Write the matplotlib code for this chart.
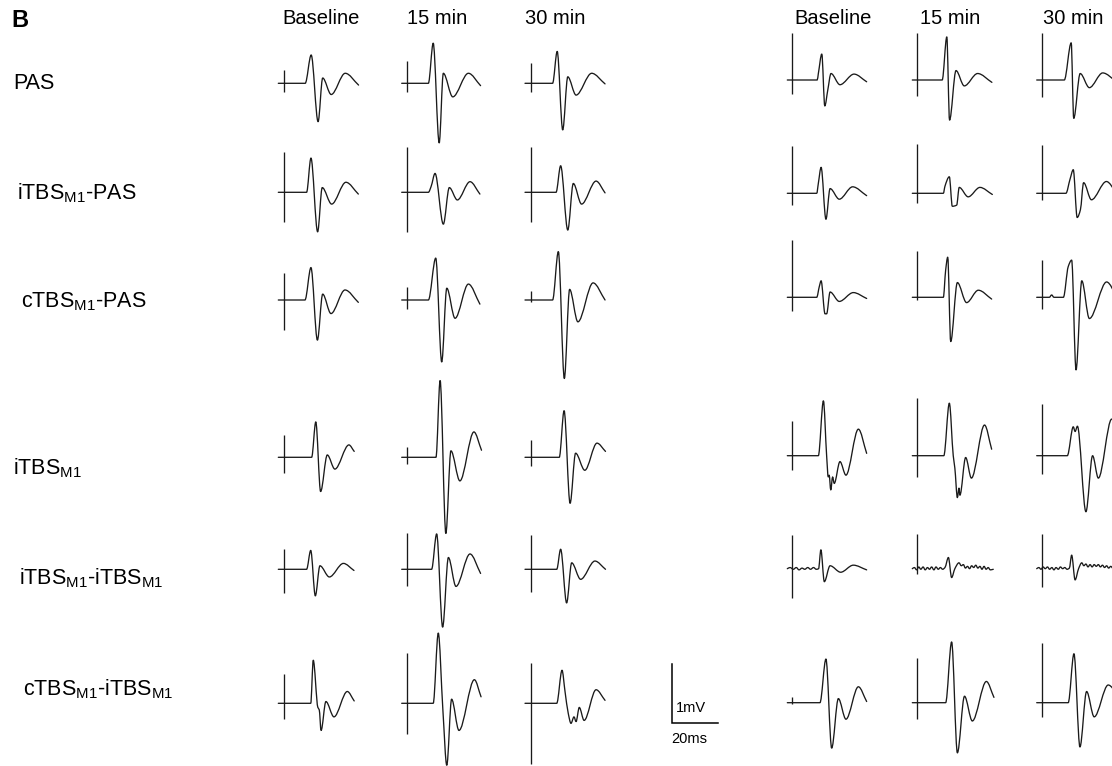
import numpy as np
import matplotlib
matplotlib.use("Agg")
import matplotlib.pyplot as plt
from matplotlib.path import Path
from matplotlib.patches import PathPatch
from matplotlib.transforms import Affine2D

plt.rcParams['font.family'] = ['Liberation Sans', 'DejaVu Sans']
plt.rcParams['mathtext.default'] = 'regular'

conditions = ["PAS", "iTBS$_{M1}$-PAS", "cTBS$_{M1}$-PAS", "iTBS$_{M1}$",
              "iTBS$_{M1}$-iTBS$_{M1}$", "cTBS$_{M1}$-iTBS$_{M1}$"]
timepoints = ["Baseline", "15 min", "30 min"]

# stimulus artefact extent in mV (rows = conditions, cols = timepoints)
left_stim_up = [[0.22, 0.38, 0.34], [0.69, 0.77, 0.77], [0.45, 0.22, 0.15],
                [0.38, 0.18, 0.29], [0.34, 0.61, 0.58], [0.50, 0.86, 0.68]]
left_stim_down = [[-0.14, -0.15, -0.14], [-0.50, -0.67, -0.50], [-0.50, -0.16, -0.03],
                  [-0.26, -0.12, -0.15], [-0.40, -0.28, -0.38], [-0.27, -0.52, -1.03]]
right_stim_up = [[0.79, 0.79, 0.79], [0.80, 0.83, 0.82], [0.97, 0.79, 0.64],
                 [0.59, 0.97, 0.88], [0.57, 0.59, 0.59], [0.10, 0.75, 1.01]]
right_stim_down = [[-0.23, -0.27, -0.28], [-0.20, -0.17, -0.11], [-0.24, -0.05, -0.19],
                   [-0.25, -0.36, -0.31], [-0.49, -0.09, -0.31], [-0.02, -0.28, -0.24]]

# MEP sweeps as (ms, mV) points, one list per timepoint
left_pas = [
    [(0, 0), (11.7, 0), (14.3, 0.48), (17.3, -0.65), (19.3, 0.09), (23.0, -0.19), (29.1, 0.17), (34.9, -0.03)],
    [(0, 0), (11.6, 0), (13.7, 0.68), (16.3, -1.01), (18.1, 0.17), (22.2, -0.23), (29.0, 0.17), (34.3, -0.04)],
    [(0, 0), (12.0, 0), (14.0, 0.54), (16.4, -0.79), (18.6, 0.11), (22.2, -0.20), (29.0, 0.17), (34.8, -0.01)],
]
left_itbs_pas = [
    [(0, 0), (12.3, 0), (14.2, 0.58), (17.1, -0.67), (19.1, 0.08), (23.2, -0.20), (29.4, 0.17), (34.8, -0.03)],
    [(0, 0), (11.6, 0), (12.8, 0.10), (14.5, 0.32), (18.1, -0.54), (20.7, 0.08), (24.2, -0.13), (29.7, 0.18), (34.0, -0.03)],
    [(0, 0), (13.5, 0), (15.5, 0.45), (18.6, -0.64), (21.0, 0.15), (24.6, -0.20), (30.9, 0.19), (34.8, -0.01)],
]
left_ctbs_pas = [
    [(0, 0), (11.6, 0), (14.2, 0.55), (17.0, -0.68), (19.3, 0.10), (22.9, -0.23), (29.0, 0.17), (34.8, -0.04)],
    [(0, 0), (11.6, 0), (14.8, 0.71), (17.4, -1.05), (19.6, 0.20), (23.2, -0.31), (29.0, 0.27), (34.0, -0.07)],
    [(0, 0), (12.0, 0), (14.5, 0.82), (17.1, -1.33), (19.4, 0.18), (23.0, -0.37), (29.6, 0.29), (34.8, 0.0)],
]
left_itbs = [
    [(0, 0), (14.5, 0), (16.3, 0.60), (18.4, -0.58), (21.3, 0.04), (24.6, -0.20), (30.7, 0.21), (33.0, 0.10)],
    [(0, 0), (14.9, 0), (16.7, 1.30), (19.2, -1.29), (21.4, 0.11), (25.3, -0.40), (31.4, 0.43), (34.7, 0.12)],
    [(0, 0), (14.9, 0), (17.0, 0.79), (19.6, -0.78), (22.0, 0.07), (26.0, -0.22), (31.3, 0.24), (35.0, 0.10)],
]
left_itbs_itbs = [
    [(0, 0), (12.3, 0), (14.1, 0.32), (16.1, -0.45), (18.1, 0.06), (22.2, -0.13), (28.3, 0.10), (32.9, -0.02)],
    [(0, 0), (13.0, 0), (15.2, 0.60), (17.8, -0.98), (20.3, 0.20), (23.6, -0.29), (29.7, 0.26), (34.3, -0.07)],
    [(0, 0), (13.8, 0), (15.5, 0.34), (18.1, -0.57), (20.3, 0.11), (24.2, -0.17), (30.4, 0.14), (35.0, 0.0)],
]
left_ctbs_itbs = [
    [(0, 0), (14.1, 0), (15.2, 0.73), (17.2, -0.07), (17.8, -0.11), (18.6, -0.46), (20.7, 0.03), (24.2, -0.23),
     (30.0, 0.20), (33.0, 0.04)],
    [(0, 0), (13.7, 0), (15.9, 1.19), (17.9, -0.11), (19.6, -1.05), (21.7, 0.07), (24.9, -0.46), (31.6, 0.40),
     (34.5, 0.11)],
    [(0, 0), (13.8, 0), (16.1, 0.56), (17.4, 0.20), (18.8, -0.17), (20.0, -0.34), (21.3, -0.23), (22.2, -0.31),
     (23.6, -0.07), (25.7, -0.29), (30.9, 0.23), (34.8, 0.05)],
]

right_pas = [
    [(0, 0), (13.0, 0), (13.5, 0.11), (15.0, 0.44), (16.3, -0.44), (17.6, -0.17), (19.0, 0.11), (22.9, -0.08),
     (29.0, 0.10), (34.5, -0.03)],
    [(0, 0), (13.0, 0), (15.0, 0.73), (16.2, -0.68), (19.0, 0.16), (22.6, -0.10), (28.4, 0.11), (34.6, -0.04)],
    [(0, 0), (12.0, 0), (15.0, 0.63), (16.1, -0.65), (18.9, 0.11), (22.9, -0.13), (28.7, 0.12), (34.5, -0.02)],
]
right_itbs_pas = [
    [(0, 0), (12.8, 0), (13.5, 0.17), (14.7, 0.44), (16.8, -0.44), (18.6, 0.08), (22.6, -0.10), (28.4, 0.11),
     (34.5, -0.04)],
    [(0, 0), (13.5, 0), (14.2, 0.12), (16.1, 0.28), (17.4, -0.22), (19.3, -0.20), (20.4, 0.10), (24.3, -0.06),
     (29.4, 0.10), (34.8, -0.02)],
    [(0, 0), (12.7, 0), (14.5, 0.24), (15.9, 0.40), (17.6, -0.41), (19.0, -0.28), (20.4, 0.18), (23.8, -0.11),
     (30.3, 0.20), (34.8, 0.0)],
]
right_ctbs_pas = [
    [(0, 0), (12.8, 0), (13.9, 0.18), (14.7, 0.28), (16.4, -0.28), (17.1, -0.28), (18.6, 0.09), (22.6, -0.07),
     (28.7, 0.08), (34.5, -0.02)],
    [(0, 0), (13.5, 0), (14.5, 0.46), (15.4, 0.68), (16.7, -0.75), (19.6, 0.25), (23.6, -0.09), (28.7, 0.12),
     (34.5, -0.03)],
    [(0, 0), (5.5, 0), (6.5, 0.04), (7.5, 0), (11.6, 0), (13.7, 0.52), (15.2, 0.63), (17.1, -1.23), (19.6, 0.28),
     (22.9, -0.36), (30.4, 0.26), (35.0, 0.0)],
]
right_itbs = [
    [(0, 0), (13.5, 0), (15.7, 0.93), (17.1, 0.0), (17.8, -0.36), (18.2, -0.33), (18.9, -0.58), (19.7, -0.36),
     (20.4, -0.47), (22.9, -0.10), (25.5, -0.33), (30.9, 0.45), (34.5, 0.04)],
    [(0, 0), (13.7, 0), (16.1, 0.89), (17.8, 0.0), (18.5, -0.21), (19.6, -0.71), (20.3, -0.55), (20.7, -0.67),
     (23.2, -0.03), (25.7, -0.38), (31.4, 0.52), (34.5, 0.11)],
    [(0, 0), (13.3, 0), (15.9, 0.49), (16.7, 0.41), (17.7, 0.50), (21.4, -0.95), (24.3, 0.0), (26.8, -0.38),
     (32.6, 0.62), (35.0, 0.50)],
]
right_itbs_itbs = [
    [(0, 0), (1.2, 0.02), (2.6, -0.01), (3.9, 0.02), (5.1, -0.02), (6.4, 0.01), (7.6, -0.01), (8.9, 0.02),
     (10.1, -0.01), (11.4, 0.02), (12.6, -0.01), (13.6, 0.0), (14.6, 0.32), (16.1, -0.22), (18.6, 0.05),
     (23.2, -0.06), (28.7, 0.06), (34.5, -0.02)],
    [(0, 0), (0.9, 0.02), (1.9, -0.02), (2.8, 0.03), (3.7, -0.01), (4.7, 0.03), (5.6, -0.02), (6.6, 0.02),
     (7.5, -0.01), (8.4, 0.03), (9.4, -0.02), (10.3, 0.03), (11.3, -0.01), (12.2, 0.02), (13.2, -0.01),
     (14.2, 0.02), (15.7, 0.19), (17.1, -0.15), (18.5, 0.0), (20.3, 0.10), (21.3, 0.05), (22.2, 0.07),
     (23.1, 0.01), (24.0, 0.04), (24.9, 0.0), (25.8, 0.05), (26.7, 0.02), (27.6, 0.06), (28.5, 0.01),
     (29.4, 0.04), (30.3, -0.01), (31.2, 0.04), (32.1, -0.01), (33.0, 0.02), (33.9, -0.02), (35.2, -0.01)],
    [(0, 0), (0.9, 0.02), (1.9, -0.01), (2.8, 0.03), (3.7, 0.0), (4.7, 0.03), (5.6, -0.01), (6.6, 0.02),
     (7.5, -0.02), (8.4, 0.02), (9.4, -0.01), (10.3, 0.03), (11.3, 0.0), (12.2, 0.02), (13.2, -0.01),
     (14.2, 0.01), (15.2, 0.23), (16.7, -0.19), (18.2, 0.0), (19.6, 0.10), (20.5, 0.05), (21.4, 0.08),
     (22.3, 0.03), (23.2, 0.07), (24.1, 0.03), (25.0, 0.07), (25.9, 0.04), (26.8, 0.07), (27.7, 0.03),
     (28.6, 0.06), (29.5, 0.02), (30.4, 0.05), (31.3, 0.01), (32.2, 0.04), (33.1, 0.01), (34.5, 0.03)],
]
right_ctbs_itbs = [
    [(0, 0), (14.2, 0), (16.8, 0.74), (19.3, -0.77), (22.2, 0.07), (25.5, -0.28), (30.9, 0.27), (34.5, 0.02)],
    [(0, 0), (14.5, 0), (17.1, 1.03), (19.6, -0.85), (22.7, 0.11), (26.1, -0.31), (32.2, 0.36), (35.5, 0.09)],
    [(0, 0), (13.7, 0), (16.2, 0.83), (18.8, -0.75), (21.7, 0.19), (25.0, -0.24), (31.1, 0.30), (35.0, 0.15)],
]

left_sweeps = [left_pas, left_itbs_pas, left_ctbs_pas, left_itbs, left_itbs_itbs, left_ctbs_itbs]
right_sweeps = [right_pas, right_itbs_pas, right_ctbs_pas, right_itbs, right_itbs_itbs, right_ctbs_itbs]

# layout (figure pixels) and recording scale
W, H = 1112, 766
PX_PER_MS = 2.3
PX_PER_MV = 59.0
left_cols = [278.3, 401.7, 525.0]
right_cols = [787.3, 912.3, 1036.7]
left_rows = [83.3, 192.3, 300.0, 457.3, 569.3, 703.3]
right_rows = [80.0, 193.3, 297.3, 455.7, 568.7, 702.7]
left_stim_ms = 2.4
right_stim_ms = 2.1
trace_color = "#1a1a1a"
trace_lw = 0.95


def smooth_path(points):
    # monotone cubic (Fritsch-Carlson) written as Bezier segments
    t = np.array([p[0] for p in points], float)
    v = np.array([p[1] for p in points], float)
    h = np.diff(t)
    d = np.diff(v) / h
    m = np.zeros(len(t))
    m[0], m[-1] = d[0], d[-1]
    for i in range(1, len(t) - 1):
        if d[i - 1] * d[i] > 0:
            w1 = 2 * h[i] + h[i - 1]
            w2 = h[i] + 2 * h[i - 1]
            m[i] = (w1 + w2) / (w1 / d[i - 1] + w2 / d[i])
    verts = [(t[0], v[0])]
    codes = [Path.MOVETO]
    for i in range(len(t) - 1):
        verts += [(t[i] + h[i] / 3, v[i] + m[i] * h[i] / 3),
                  (t[i + 1] - h[i] / 3, v[i + 1] - m[i + 1] * h[i] / 3),
                  (t[i + 1], v[i + 1])]
        codes += [Path.CURVE4] * 3
    return Path(verts, codes)


fig = plt.figure(figsize=(W / 100, H / 100), dpi=100)
ax = fig.add_axes([0, 0, 1, 1])
ax.set_xlim(0, W)
ax.set_ylim(H, 0)
ax.axis("off")


def sweep_transform(x0, y0):
    return Affine2D().scale(PX_PER_MS, -PX_PER_MV).translate(x0, y0) + ax.transData


def draw_panel(sweeps, cols, rows, stim_up, stim_down, stim_ms):
    for r, row_sweeps in enumerate(sweeps):
        for c, pts in enumerate(row_sweeps):
            tr = sweep_transform(cols[c], rows[r])
            ax.add_patch(PathPatch(smooth_path(pts), fill=False, ec=trace_color,
                                   lw=trace_lw, transform=tr, capstyle="round", joinstyle="round"))
            ax.plot([stim_ms, stim_ms], [stim_up[r][c], stim_down[r][c]], color=trace_color,
                    lw=trace_lw, transform=tr, solid_capstyle="butt")


draw_panel(left_sweeps, left_cols, left_rows, left_stim_up, left_stim_down, left_stim_ms)
draw_panel(right_sweeps, right_cols, right_rows, right_stim_up, right_stim_down, right_stim_ms)

# column headers
for cx, label in zip([321, 437, 555], timepoints):
    ax.text(cx, 24, label, fontsize=14.5, ha="center", va="baseline")
for cx, label in zip([833, 950, 1073], timepoints):
    ax.text(cx, 24, label, fontsize=14.5, ha="center", va="baseline")

# condition labels
label_x = [13, 17, 21, 13, 19, 23]
label_y = [89, 199, 307, 474, 584, 695]
for x, y, label in zip(label_x, label_y, conditions):
    ax.text(x, y, label, fontsize=15.5, ha="left", va="baseline")

ax.text(11, 27, "B", fontsize=17, fontweight="bold", ha="left", va="baseline")

# calibration bar: 1 mV / 20 ms
bar_tr = sweep_transform(672, 723)
ax.plot([0, 0, 20], [1, 0, 0], color="black", lw=1.1, transform=bar_tr, solid_joinstyle="miter")
ax.text(676, 712, "1mV", fontsize=10.5, ha="left", va="baseline")
ax.text(671, 743, "20ms", fontsize=10.5, ha="left", va="baseline")

fig.savefig("out.png", dpi=100)
